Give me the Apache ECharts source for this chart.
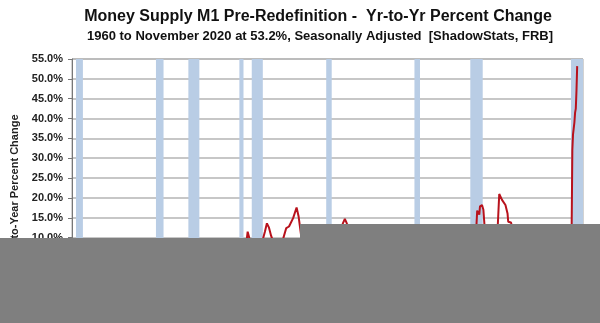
<!DOCTYPE html>
<html>
<head>
<meta charset="utf-8">
<script src="https://cdn.jsdelivr.net/npm/echarts@6/dist/echarts.min.js"></script>
<style>
html,body{margin:0;padding:0;background:#fff;}
#c{width:600px;height:323px;}
</style>
</head>
<body>
<div id="c"></div>
<script>
// Month of observation and year-to-year % change (M1 pre-redefinition)
var dates = ['1960-01','1960-07','1961-01','1961-07','1962-01','1962-07','1963-01','1963-07','1964-01','1964-07',
'1965-01','1965-07','1966-01','1966-07','1967-01','1967-07','1968-01','1968-07','1969-01','1969-07',
'1970-01','1970-07','1971-01','1971-07','1972-01','1972-07','1973-01','1973-07','1974-01','1974-07',
'1975-01','1975-07','1976-01','1976-07','1977-01','1977-07','1978-01','1978-07','1979-01','1979-07',
'1980-01','1980-07','1980-11','1980-12','1981-01','1981-04','1981-07','1981-10','1982-01','1982-07',
'1982-10','1982-11','1983-02','1983-05','1983-08','1983-11','1984-01','1984-07','1985-01','1985-05',
'1985-09','1986-01','1986-07','1986-12','1987-03','1987-07','1987-12','1988-07','1989-01','1989-07',
'1990-01','1990-07','1991-01','1991-07','1992-01','1992-07','1992-10','1993-01','1993-07','1994-01',
'1994-07','1995-01','1995-07','1996-01','1996-07','1997-01','1997-07','1998-01','1998-07','1999-01',
'1999-07','2000-01','2000-07','2001-01','2001-07','2001-10','2002-01','2002-07','2003-01','2003-07',
'2004-01','2004-07','2005-01','2005-07','2006-01','2006-07','2007-01','2007-07','2008-01','2008-07',
'2008-09','2008-10','2009-01','2009-02','2009-05','2009-07','2009-09','2010-01','2010-07','2011-01',
'2011-04','2011-06','2011-10','2012-03','2012-06','2012-07','2012-11','2013-03','2013-07','2014-01',
'2014-07','2015-01','2015-07','2016-01','2016-07','2017-01','2017-07','2018-01','2018-07','2019-01',
'2019-07','2020-01','2020-02','2020-03','2020-04','2020-05','2020-06','2020-07','2020-08','2020-09',
'2020-10','2020-11'];
var values = [0.5,-0.5,1.5,2.5,2.5,1.5,3.0,3.5,4.0,4.5,
4.5,4.0,4.5,3.0,1.5,5.0,7.0,7.5,7.0,5.0,
3.5,4.5,6.0,7.0,6.5,8.0,8.5,6.5,5.5,5.0,
4.0,5.0,5.0,5.5,6.5,8.0,8.0,8.0,7.5,8.0,
7.0,5.5,9.0,10.0,11.5,9.5,6.5,5.5,7.5,6.0,
8.0,9.5,11.5,13.6,12.5,10.5,9.5,6.0,6.0,10.0,
12.4,12.8,14.9,17.6,15.3,10.0,4.0,4.5,4.0,0.5,
1.0,4.0,5.0,7.0,10.0,13.5,14.7,13.5,11.5,10.0,
6.0,2.5,-1.0,-2.0,-4.0,-4.0,-1.5,-1.0,0.5,2.0,
2.0,1.5,-1.0,-1.0,5.0,9.0,6.5,3.0,5.5,7.0,
5.0,5.5,3.0,1.0,0.0,-0.5,-0.5,-0.5,0.5,2.5,
13.5,16.8,15.8,17.9,18.2,17.0,12.0,6.0,6.5,10.0,
13.5,21.0,19.5,18.2,16.1,14.0,13.8,11.0,10.0,8.0,
8.5,8.0,6.0,5.0,7.0,7.5,6.0,6.5,4.5,3.5,
5.0,6.0,7.0,12.0,32.0,36.0,37.5,39.0,41.5,42.5,
47.0,53.2];
// Recessions (start, end)
var recessionStarts = ['1960-04','1969-12','1973-11','1980-01','1981-07','1990-07','2001-03','2007-12','2020-02'];
var recessionEnds   = ['1961-02','1970-11','1975-03','1980-07','1982-11','1991-03','2001-11','2009-06','2021-07-16'];
var yMin = -10, yMax = 55, yStep = 5;

var chart = echarts.init(document.getElementById('c'));
var lineData = dates.map(function(d,i){return [d, values[i]];});
var areas = recessionStarts.map(function(s,i){return [{xAxis:s},{xAxis:recessionEnds[i]}];});
var FONT = '"Liberation Sans", Arial, sans-serif';
chart.setOption({
  animation:false,
  backgroundColor:'#fff',
  title:[
    {text:'Money Supply M1 Pre-Redefinition -  Yr-to-Yr Percent Change', left:313, top:4, textAlign:'center',
     textStyle:{fontFamily:FONT, fontWeight:'bold', fontSize:16, color:'#111'}},
    {text:'1960 to November 2020 at 53.2%, Seasonally Adjusted  [ShadowStats, FRB]', left:315, top:25, textAlign:'center',
     textStyle:{fontFamily:FONT, fontWeight:'bold', fontSize:13, color:'#111'}}
  ],
  grid:{left:72, right:17, top:59, bottom:6, show:true, borderColor:'#a6a6a6', borderWidth:1},
  xAxis:{type:'time', min:'1959-10-08', max:'2021-07-16',
    axisLine:{show:true, lineStyle:{color:'#666'}}, axisTick:{show:false}, axisLabel:{show:false}, splitLine:{show:false}},
  yAxis:{type:'value', min:yMin, max:yMax, interval:yStep,
    axisLine:{show:true, lineStyle:{color:'#777', width:1}},
    axisTick:{show:true, length:4, lineStyle:{color:'#777'}},
    axisLabel:{margin:9, fontFamily:FONT, fontWeight:'bold', fontSize:11, color:'#222',
      formatter:function(v){return v.toFixed(1)+'%';}},
    splitLine:{show:true, lineStyle:{color:'#b4b4b4', width:1.5}}},
  series:[
    {type:'line', data:[], z:1, silent:true,
     markArea:{silent:true, itemStyle:{color:'#b9cde5', opacity:1}, data:areas}},
    {type:'line', data:lineData, z:3, showSymbol:false, symbol:'none',
     lineStyle:{color:'#b8121c', width:2}}
  ],
  graphic:[
    {type:'text', z:50, x:15, y:190, rotation:Math.PI/2, style:{text:'Year-to-Year Percent Change', align:'center', verticalAlign:'middle',
      font:'bold 11px "Liberation Sans", Arial, sans-serif', fill:'#222'}},
    {type:'rect', z:100, shape:{x:0, y:238, width:600, height:85}, style:{fill:'#7f7f7f'}},
    {type:'rect', z:100, shape:{x:300, y:224, width:300, height:99}, style:{fill:'#7f7f7f'}}
  ]
});
</script>
</body>
</html>
